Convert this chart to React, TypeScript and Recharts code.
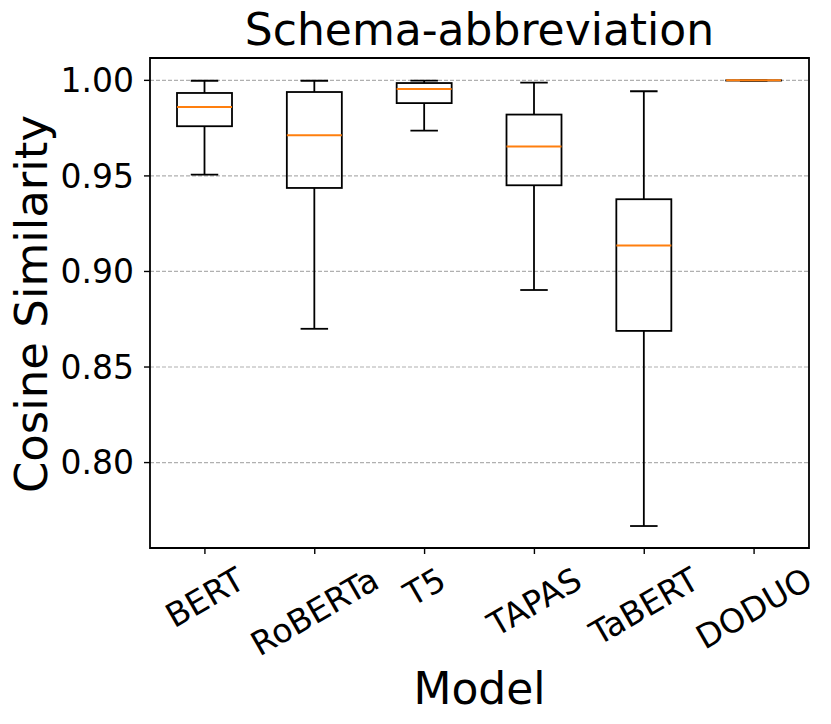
import React from 'react';
import { ComposedChart, Bar, XAxis, YAxis, CartesianGrid, ReferenceArea } from 'recharts';

// box plot values
const models = ['BERT', 'RoBERTa', 'T5', 'TAPAS', 'TaBERT', 'DODUO'];
const whiskerLow = [0.9507, 0.870, 0.9737, 0.8903, 0.7668, 0.9999];
const q1 = [0.976, 0.9437, 0.9881, 0.9451, 0.8689, 0.9999];
const median = [0.986, 0.9713, 0.9955, 0.9654, 0.9136, 1.0];
const q3 = [0.9934, 0.9939, 0.9986, 0.9821, 0.9378, 1.0];
const whiskerHigh = [0.9998, 0.9998, 0.9999, 0.9988, 0.9943, 1.0];

const yTicks = [0.8, 0.85, 0.9, 0.95, 1.0];
const yDomain = [0.7553, 1.0117];

const FONT = 'DejaVu Sans';
const X_TICK_FONT = 33;
const Y_TICK_FONT = 33;
const LABEL_FONT = 45;
const TITLE_FONT = 44;
const LINE_W = 1.8;

const data = models.map((model, i) => ({
  model,
  low: whiskerLow[i],
  q1: q1[i],
  median: median[i],
  q3: q3[i],
  high: whiskerHigh[i],
}));

let ctx: CanvasRenderingContext2D | null = null;
function textWidth(s: string, size: number) {
  if (!ctx) ctx = document.createElement('canvas').getContext('2d');
  if (ctx) {
    ctx.font = `${size}px "${FONT}"`;
    return ctx.measureText(s).width;
  }
  return s.length * size * 0.65;
}

function BoxShape(props: any) {
  const { x, y, width, height, payload } = props;
  const span = payload.high - payload.low;
  const py = (v: number) => (span > 0 ? y + ((payload.high - v) / span) * height : y);
  const cx = x + width / 2;
  const cap = width / 4;
  const top = py(payload.q3);
  const bottom = py(payload.q1);
  return (
    <g>
      <line x1={cx} x2={cx} y1={py(payload.high)} y2={top} stroke="#000" strokeWidth={LINE_W} />
      <line x1={cx} x2={cx} y1={bottom} y2={py(payload.low)} stroke="#000" strokeWidth={LINE_W} />
      <line x1={cx - cap} x2={cx + cap} y1={py(payload.high)} y2={py(payload.high)} stroke="#000" strokeWidth={LINE_W} />
      <line x1={cx - cap} x2={cx + cap} y1={py(payload.low)} y2={py(payload.low)} stroke="#000" strokeWidth={LINE_W} />
      <rect x={x} y={top} width={width} height={bottom - top} fill="none" stroke="#000" strokeWidth={LINE_W} />
      <line x1={x} x2={x + width} y1={py(payload.median)} y2={py(payload.median)} stroke="#ff7f0e" strokeWidth={2} />
    </g>
  );
}

// rotated tick label, bounding box centred under the tick like matplotlib
function XTick(props: any) {
  const { x, y, payload } = props;
  const w = textWidth(payload.value, X_TICK_FONT);
  const h = X_TICK_FONT * 1.164;
  const H = w * 0.5 + h * Math.cos(Math.PI / 6);
  const cy = y + H / 2;
  return (
    <text
      x={x}
      y={cy}
      dy="0.346em"
      textAnchor="middle"
      transform={`rotate(-30, ${x}, ${cy})`}
      fontSize={X_TICK_FONT}
      fontFamily={FONT}
      fill="#000"
    >
      {payload.value}
    </text>
  );
}

function TitleLabel(props: any) {
  const vb = props.viewBox;
  return (
    <text x={vb.x + vb.width / 2} y={vb.y - 13} textAnchor="middle" fontSize={TITLE_FONT} fontFamily={FONT} fill="#000">
      Schema-abbreviation
    </text>
  );
}

function YLabel(props: any) {
  const vb = props.viewBox;
  const lx = vb.x + 38.5;
  const ly = vb.y + vb.height / 2 + 1;
  return (
    <text
      x={lx}
      y={ly}
      textAnchor="middle"
      transform={`rotate(-90, ${lx}, ${ly})`}
      fontSize={LABEL_FONT}
      fontFamily={FONT}
      fill="#000"
    >
      Cosine Similarity
    </text>
  );
}

export default function App() {
  return (
    <div style={{ width: 815, height: 708 }}>
      <ComposedChart width={815} height={708} data={data} margin={{ top: 50, right: 14, bottom: 0, left: 0 }}>
        <CartesianGrid vertical={false} horizontal={true} strokeDasharray="4 2" stroke="#b0b0b0" strokeWidth={1.2} />
        <XAxis
          dataKey="model"
          height={168}
          axisLine={false}
          tickLine={{ stroke: '#000', strokeWidth: 1.4 }}
          tickSize={6}
          tickMargin={6}
          interval={0}
          tick={(p: any) => <XTick {...p} />}
          label={{ value: 'Model', position: 'insideBottom', offset: 12, fontSize: 44, fontFamily: FONT, fill: '#000' }}
        />
        <YAxis
          type="number"
          domain={yDomain}
          allowDataOverflow
          ticks={yTicks}
          width={142}
          axisLine={false}
          tickLine={{ stroke: '#000', strokeWidth: 1.4 }}
          tickSize={6}
          tickMargin={10}
          tickFormatter={(v: number) => v.toFixed(2)}
          tick={{ fill: '#000', fontSize: Y_TICK_FONT, fontFamily: FONT }}
          label={{ content: (p: any) => <YLabel {...p} /> }}
        />
        <Bar
          dataKey={(d: any) => [d.low, d.high]}
          barSize={55}
          shape={(p: any) => <BoxShape {...p} />}
          isAnimationActive={false}
        />
        {/* frame of the axes + title above it */}
        <ReferenceArea
          y1={yDomain[0]}
          y2={yDomain[1]}
          fill="none"
          fillOpacity={0}
          stroke="#000"
          strokeWidth={LINE_W}
          ifOverflow="visible"
          label={{ content: (p: any) => <TitleLabel {...p} /> }}
        />
      </ComposedChart>
    </div>
  );
}
